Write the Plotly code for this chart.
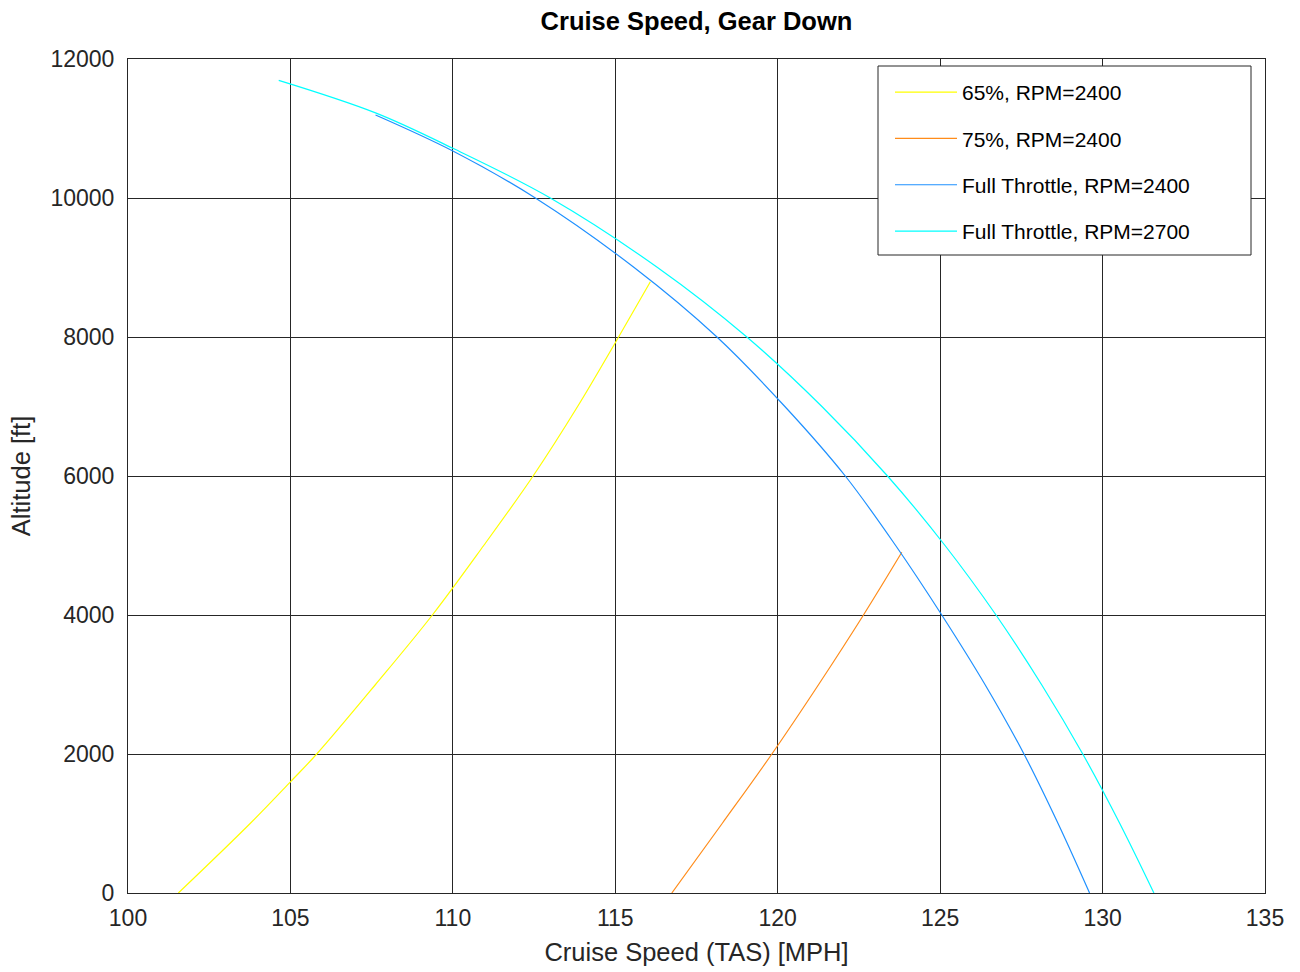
import plotly.graph_objects as go

# ---- data ----
alt_65 = [0, 1000, 1600, 2000, 3000, 4000, 5000, 6000, 7000, 7918, 8795]
speed_65 = [101.55, 103.76, 105.0, 105.81, 107.62, 109.37, 110.95, 112.47, 113.84, 115.0, 116.08]

alt_75 = [0, 1000, 2000, 3000, 4000, 4902]
speed_75 = [116.74, 118.29, 119.82, 121.26, 122.64, 123.82]

alt_ft2400 = [0, 1000, 2000, 3000, 4000, 5000, 6000, 7000, 8000, 9000, 10000, 10676, 11194]
speed_ft2400 = [129.6, 128.63, 127.58, 126.38, 125.05, 123.63, 122.08, 120.22, 118.13, 115.58, 112.54, 110.0, 107.62]

alt_ft2700 = [0, 1000, 2000, 3000, 4000, 5000, 6000, 7000, 8000, 9000, 10000, 10715, 11225, 11693]
speed_ft2700 = [131.58, 130.53, 129.39, 128.12, 126.72, 125.15, 123.38, 121.36, 119.05, 116.3, 113.0, 110.0, 107.62, 104.64]

series_names = ["65%, RPM=2400", "75%, RPM=2400", "Full Throttle, RPM=2400", "Full Throttle, RPM=2700"]
series_colors = ["#ffff00", "#ff8c1a", "#1e90ff", "#00ffff"]

x_ticks = [100, 105, 110, 115, 120, 125, 130, 135]
y_ticks = [0, 2000, 4000, 6000, 8000, 10000, 12000]

FONT = "Liberation Sans, Arial, Helvetica, sans-serif"
AX = "#262626"

fig = go.Figure()
data = [(speed_65, alt_65), (speed_75, alt_75), (speed_ft2400, alt_ft2400), (speed_ft2700, alt_ft2700)]
for i, ((xs, ys), name, col) in enumerate(zip(data, series_names, series_colors)):
    fig.add_trace(go.Scatter(
        x=xs, y=ys, mode="lines", name=name,
        line=dict(color=col, width=1.2, shape="spline", smoothing=1.0),
        legendgroup=f"g{i}",
    ))

L, R, T, B = 128, 1265, 59, 893
def px2paper_x(px):
    return (px - L) / (R - L)
def px2paper_y(py):
    return (B - py) / (B - T)

# legend frame
fig.add_shape(type="rect", xref="paper", yref="paper",
              x0=px2paper_x(878), x1=px2paper_x(1251),
              y0=px2paper_y(255), y1=px2paper_y(66),
              line=dict(color=AX, width=1), fillcolor="white", layer="above")

axis_common = dict(
    showline=True, linecolor=AX, linewidth=1, mirror="ticks",
    showgrid=True, gridcolor=AX, gridwidth=1,
    ticks="inside", ticklen=8, tickcolor=AX, tickwidth=1,
    zeroline=False,
    tickfont=dict(family=FONT, size=23, color=AX),
)

fig.update_layout(
    width=1300, height=972,
    margin=dict(l=L, r=1300 - R, t=T, b=972 - B, pad=0),
    paper_bgcolor="white", plot_bgcolor="white",
    font=dict(family=FONT, color=AX),
    title=dict(text="<b>Cruise Speed, Gear Down</b>", x=px2paper_x(696.5), xref="paper",
               xanchor="center", y=1 - 21 / 972, yanchor="middle",
               font=dict(family=FONT, size=25.5, color="black")),
    xaxis=dict(range=[100, 135], tickvals=x_ticks, ticklabelstandoff=4,
               title=dict(text="Cruise Speed (TAS) [MPH]", standoff=13,
                          font=dict(family=FONT, size=25.5, color=AX)),
               automargin=False, **axis_common),
    yaxis=dict(range=[0, 12000], tickvals=y_ticks, tickformat="d", ticklabelstandoff=8,
               title=dict(text="Altitude [ft]", standoff=12,
                          font=dict(family=FONT, size=25.5, color=AX)),
               automargin=False, **axis_common),
    legend=dict(x=px2paper_x(890), y=px2paper_y(72), xanchor="left", yanchor="top",
                bgcolor="rgba(0,0,0,0)", borderwidth=0,
                font=dict(family=FONT, size=21, color="black"),
                traceorder="grouped", tracegroupgap=16, itemwidth=62),
    showlegend=True,
)

fig.write_html("out.html", config={"displayModeBar": False},
               post_script="document.body.style.margin='0px';")
